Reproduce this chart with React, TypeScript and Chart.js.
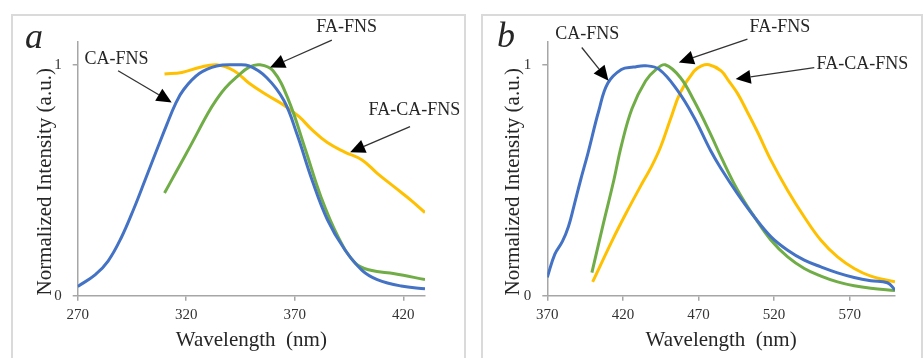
import React, { useEffect, useRef } from 'react';
import { Chart, registerables } from 'chart.js';
Chart.register(...registerables);

const SERIES_NAMES = ['CA-FNS', 'FA-FNS', 'FA-CA-FNS'];
const COLORS = ['#4472C4', '#70AD47', '#FFC000'];
const Y_TICKS = [0, 1];

// Panel a
const A_X_TICKS = [270, 320, 370, 420];
const A_CA_WL = [270, 278, 284, 290, 296, 301, 307, 311, 315, 319, 326, 334, 343, 349, 357, 365, 371, 378, 385, 393, 401, 408, 419, 430];
const A_CA_VAL = [0.04, 0.09, 0.15, 0.25, 0.38, 0.5, 0.645, 0.74, 0.83, 0.895, 0.962, 0.995, 1.0, 0.995, 0.945, 0.845, 0.7, 0.5, 0.33, 0.2, 0.11, 0.07, 0.042, 0.03];
const A_FA_WL = [310, 315, 322, 330, 334, 338, 343, 349, 354, 360, 367, 375, 382, 390, 398, 405, 416, 430];
const A_FA_VAL = [0.445, 0.53, 0.65, 0.79, 0.85, 0.9, 0.945, 0.99, 1.0, 0.974, 0.85, 0.63, 0.43, 0.255, 0.14, 0.11, 0.095, 0.07];
const A_FACA_WL = [310, 318, 326, 334, 342, 349, 357, 365, 372, 378, 385, 393, 401, 408, 416, 424, 430];
const A_FACA_VAL = [0.96, 0.967, 0.988, 1.0, 0.974, 0.92, 0.87, 0.825, 0.775, 0.718, 0.663, 0.622, 0.588, 0.53, 0.47, 0.41, 0.36];

// Panel b
const B_X_TICKS = [370, 420, 470, 520, 570];
const B_CA_WL = [370, 375, 380, 384, 387.5, 392, 397, 404, 410, 419, 427, 435, 444, 456, 467, 478, 485, 496, 507, 518, 529, 540, 551, 562, 573, 584, 595, 600];
const B_CA_VAL = [0.08, 0.18, 0.235, 0.3, 0.385, 0.5, 0.62, 0.8, 0.92, 0.98, 0.99, 0.996, 0.98, 0.89, 0.773, 0.629, 0.55, 0.44, 0.341, 0.255, 0.197, 0.154, 0.125, 0.099, 0.079, 0.065, 0.056, 0.025];
const B_FA_WL = [399.5, 407, 414, 419, 426, 435, 442, 448, 458, 467, 478, 485, 496, 507, 518, 529, 540, 551, 562, 573, 584, 600];
const B_FA_VAL = [0.1, 0.31, 0.5, 0.65, 0.81, 0.93, 0.98, 1.0, 0.945, 0.845, 0.7, 0.6, 0.456, 0.341, 0.24, 0.168, 0.118, 0.085, 0.06, 0.043, 0.032, 0.022];
const B_FACA_WL = [400, 413, 422, 433, 439, 445, 451.5, 458, 467, 472, 477, 485, 490, 496, 502, 509, 518, 529, 540, 551, 562, 573, 584, 600];
const B_FACA_VAL = [0.06, 0.24, 0.356, 0.49, 0.56, 0.645, 0.765, 0.88, 0.972, 0.995, 1.0, 0.974, 0.93, 0.874, 0.8, 0.71, 0.586, 0.456, 0.341, 0.24, 0.168, 0.118, 0.085, 0.06];

// Annotation anchors (in data units): label centre, arrow start, arrow tip
const A_NOTES = [
  { text: 'CA-FNS', tx: 287.9, ty: 1.022, sx: 288.6, sy: 0.974, hx: 313.3, hy: 0.837 },
  { text: 'FA-FNS', tx: 393.9, ty: 1.161, sx: 387.1, sy: 1.107, hx: 358.6, hy: 0.988 },
  { text: 'FA-CA-FNS', tx: 425.1, ty: 0.801, sx: 423.1, sy: 0.732, hx: 395.5, hy: 0.621 },
];
const B_NOTES = [
  { text: 'CA-FNS', tx: 396.5, ty: 1.132, sx: 392.8, sy: 1.075, hx: 410.5, hy: 0.931 },
  { text: 'FA-FNS', tx: 523.9, ty: 1.161, sx: 502.4, sy: 1.111, hx: 457, hy: 1.01 },
  { text: 'FA-CA-FNS', tx: 578.4, ty: 1.003, sx: 546.6, sy: 0.988, hx: 494.6, hy: 0.938 },
];

const SERIF = '"Liberation Serif", "Times New Roman", "DejaVu Serif", serif';
const AXIS_COLOR = '#a6a6a6';

const notesPlugin = {
  id: 'notes',
  afterDatasetsDraw(chart: any, _args: any, opts: any) {
    const { ctx } = chart;
    const xs = chart.scales.x;
    const ys = chart.scales.y;
    ctx.save();
    ctx.font = `18px ${SERIF}`;
    ctx.textAlign = 'center';
    ctx.textBaseline = 'middle';
    (opts.notes || []).forEach((n: any) => {
      const tx = xs.getPixelForValue(n.tx);
      const ty = ys.getPixelForValue(n.ty);
      const sx = xs.getPixelForValue(n.sx);
      const sy = ys.getPixelForValue(n.sy);
      const hx = xs.getPixelForValue(n.hx);
      const hy = ys.getPixelForValue(n.hy);
      ctx.fillStyle = '#262626';
      ctx.fillText(n.text, tx, ty);
      const ang = Math.atan2(hy - sy, hx - sx);
      const headLen = 15;
      const headW = 7;
      const bx = hx - headLen * Math.cos(ang);
      const by = hy - headLen * Math.sin(ang);
      ctx.strokeStyle = '#333333';
      ctx.lineWidth = 1.3;
      ctx.beginPath();
      ctx.moveTo(sx, sy);
      ctx.lineTo(bx, by);
      ctx.stroke();
      ctx.fillStyle = '#000000';
      ctx.beginPath();
      ctx.moveTo(hx, hy);
      ctx.lineTo(bx + headW * Math.sin(ang), by - headW * Math.cos(ang));
      ctx.lineTo(bx - headW * Math.sin(ang), by + headW * Math.cos(ang));
      ctx.closePath();
      ctx.fill();
    });
    if (opts.letter) {
      ctx.font = `italic 36px ${SERIF}`;
      ctx.textAlign = 'left';
      ctx.textBaseline = 'alphabetic';
      ctx.fillStyle = '#262626';
      ctx.fillText(opts.letter, opts.letterX, opts.letterY);
    }
    ctx.restore();
  },
};

type PanelProps = {
  series: { wl: number[]; val: number[] }[];
  xTicks: number[];
  xMin: number;
  xMax: number;
  notes: any[];
  letter: string;
  letterX: number;
  letterY: number;
  left: number;
  width: number;
  yWidth: number;
  padRight: number;
  yTitlePad: number;
};

function Panel(p: PanelProps) {
  const ref = useRef<HTMLCanvasElement>(null);
  useEffect(() => {
    if (!ref.current) return;
    const chart = new Chart(ref.current, {
      type: 'line',
      data: {
        datasets: p.series.map((s, i) => ({
          label: SERIES_NAMES[i],
          data: s.wl.map((x, j) => ({ x, y: s.val[j] })),
          borderColor: COLORS[i],
          backgroundColor: COLORS[i],
          borderWidth: 3,
          pointRadius: 0,
          tension: 0.4,
          fill: false,
        })),
      },
      options: {
        animation: false,
        responsive: false,
        events: [],
        layout: { padding: { top: 41.7, right: p.padRight, left: 0, bottom: 0 } },
        plugins: {
          legend: { display: false },
          tooltip: { enabled: false },
          notes: { notes: p.notes, letter: p.letter, letterX: p.letterX, letterY: p.letterY },
        } as any,
        scales: {
          x: {
            type: 'linear',
            min: p.xMin,
            max: p.xMax,
            afterBuildTicks: (s: any) => {
              s.ticks = p.xTicks.map((v) => ({ value: v }));
            },
            afterFit: (s: any) => {
              s.height = 62.3;
            },
            grid: { drawOnChartArea: false, drawTicks: true, tickLength: 5, color: AXIS_COLOR, lineWidth: 1.5 },
            border: { display: true, color: AXIS_COLOR, width: 1.5 },
            ticks: { font: { family: SERIF, size: 15 }, color: '#333333', padding: 5, maxRotation: 0, autoSkip: false },
            title: {
              display: true,
              text: 'Wavelength  (nm)',
              font: { family: SERIF, size: 21 },
              color: '#262626',
              padding: { top: 0, bottom: 5 },
            },
          },
          y: {
            type: 'linear',
            min: 0,
            max: 1.1,
            afterBuildTicks: (s: any) => {
              s.ticks = Y_TICKS.map((v) => ({ value: v }));
            },
            afterFit: (s: any) => {
              s.width = p.yWidth;
            },
            grid: { drawOnChartArea: false, drawTicks: true, tickLength: 5, color: AXIS_COLOR, lineWidth: 1.5 },
            border: { display: true, color: AXIS_COLOR, width: 1.5 },
            ticks: { font: { family: SERIF, size: 15 }, color: '#333333', padding: 11 },
            title: {
              display: true,
              text: 'Normalized Intensity (a.u.)     ',
              font: { family: SERIF, size: 21 },
              color: '#262626',
              padding: { top: p.yTitlePad, bottom: 0 },
            },
          },
        },
      },
      plugins: [notesPlugin],
    } as any);
    return () => chart.destroy();
  }, []);
  return (
    <canvas
      ref={ref}
      width={p.width}
      height={358}
      style={{ position: 'absolute', left: p.left, top: 0, width: p.width, height: 358 }}
    />
  );
}

export default function App() {
  return (
    <div style={{ position: 'absolute', left: 0, top: 0, width: 923, height: 358, background: '#ffffff', overflow: 'hidden' }}>
      <div style={{ position: 'absolute', left: 11, top: 14, width: 451, height: 360, border: '2px solid #dadada' }} />
      <div style={{ position: 'absolute', left: 481, top: 14, width: 438, height: 360, border: '2px solid #dadada' }} />
      <Panel
        series={[
          { wl: A_CA_WL, val: A_CA_VAL },
          { wl: A_FA_WL, val: A_FA_VAL },
          { wl: A_FACA_WL, val: A_FACA_VAL },
        ]}
        xTicks={A_X_TICKS}
        xMin={270}
        xMax={430}
        notes={A_NOTES}
        letter="a"
        letterX={25}
        letterY={48}
        left={0}
        width={470}
        yWidth={77.7}
        padRight={45}
        yTitlePad={32.4}
      />
      <Panel
        series={[
          { wl: B_CA_WL, val: B_CA_VAL },
          { wl: B_FA_WL, val: B_FA_VAL },
          { wl: B_FACA_WL, val: B_FACA_VAL },
        ]}
        xTicks={B_X_TICKS}
        xMin={370}
        xMax={600}
        notes={B_NOTES}
        letter="b"
        letterX={27}
        letterY={47}
        left={470}
        width={453}
        yWidth={77.3}
        padRight={28}
        yTitlePad={30.4}
      />
    </div>
  );
}
